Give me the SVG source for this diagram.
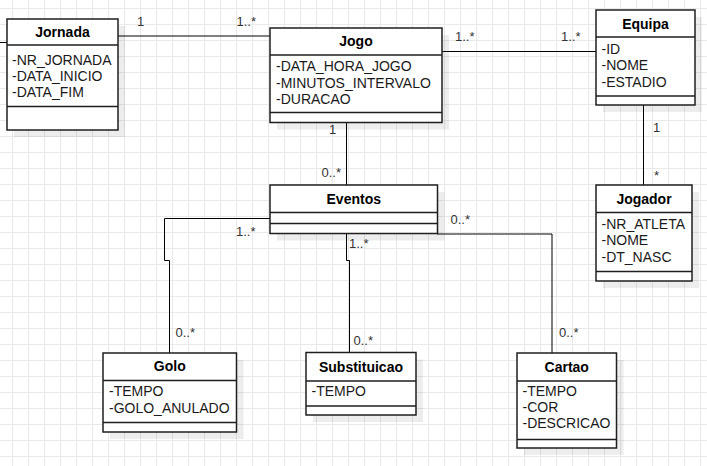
<svg xmlns="http://www.w3.org/2000/svg" width="707" height="466" viewBox="0 0 707 466">
<defs>
<pattern id="grid" width="16" height="16" patternUnits="userSpaceOnUse" x="12" y="8">
<path d="M0 0.5H16M0.5 0V16" fill="none" stroke="#e9e9e9" stroke-width="1"/>
</pattern>
<style>
.box{fill:#fff;stroke:#1f1f1f;stroke-width:1.5}
.sh{fill:#000;fill-opacity:0.07}
.sep{stroke:#1f1f1f;stroke-width:1.5;fill:none}
.t{font-family:"Liberation Sans",Arial,sans-serif;font-size:14px;font-weight:bold;text-anchor:middle;fill:#000}
.a{font-family:"Liberation Sans",Arial,sans-serif;font-size:14px;fill:#1a1a1a}
.l{font-family:"Liberation Sans",Arial,sans-serif;font-size:13px;fill:#333}
.c{fill:none;stroke:#000;stroke-width:1}
</style>
</defs>
<rect width="707" height="466" fill="#fff"/>
<rect width="707" height="466" fill="url(#grid)"/>

<g id="connectors">
<path class="c" d="M0 42.5H7"/>
<path class="c" d="M118 36H270"/>
<path class="c" d="M442 51.5H596"/>
<path class="c" d="M643.5 105V185"/>
<path class="c" d="M346.5 122.5V185"/>
<path class="c" d="M270 218.5H164.5V260.5H169.5V353"/>
<path class="c" d="M346.5 233.5V260.5H349.5V352.5"/>
<path class="c" d="M437 234H552V353"/>
<text class="l" x="137" y="25.5">1</text>
<text class="l" x="236.5" y="25.5">1..*</text>
<text class="l" x="455" y="41">1..*</text>
<text class="l" x="561" y="41">1..*</text>
<text class="l" x="653" y="132">1</text>
<text class="l" x="654" y="180">*</text>
<text class="l" x="329" y="134">1</text>
<text class="l" x="321.5" y="177">0..*</text>
<text class="l" x="236" y="236">1..*</text>
<text class="l" x="175.5" y="336.5">0..*</text>
<text class="l" x="349" y="247.5">1..*</text>
<text class="l" x="353.5" y="345">0..*</text>
<text class="l" x="450.5" y="224">0..*</text>
<text class="l" x="559" y="336.5">0..*</text>
</g>

<g id="jornada">
<rect class="sh" x="14" y="26" width="111" height="111"/>
<rect class="box" x="7" y="19" width="111" height="111"/>
<path class="sep" d="M7 45H118M7 106.5H118"/>
<text class="t" x="62.5" y="37">Jornada</text>
<text class="a" x="12" y="64.5">-NR_JORNADA</text>
<text class="a" x="12" y="80.8">-DATA_INICIO</text>
<text class="a" x="12" y="97">-DATA_FIM</text>
</g>

<g id="jogo">
<rect class="sh" x="277" y="35" width="172" height="94.5"/>
<rect class="box" x="270" y="28" width="172" height="94.5"/>
<path class="sep" d="M270 55H442M270 112.5H442"/>
<text class="t" x="356" y="46">Jogo</text>
<text class="a" x="276" y="71">-DATA_HORA_JOGO</text>
<text class="a" x="276" y="87.5">-MINUTOS_INTERVALO</text>
<text class="a" x="276" y="104">-DURACAO</text>
</g>

<g id="equipa">
<rect class="sh" x="603" y="17" width="99" height="95"/>
<rect class="box" x="596" y="10" width="99" height="95"/>
<path class="sep" d="M596 37H695M596 96H695"/>
<text class="t" x="645.5" y="28.5">Equipa</text>
<text class="a" x="601.5" y="53.5">-ID</text>
<text class="a" x="601.5" y="70">-NOME</text>
<text class="a" x="601.5" y="86.5">-ESTADIO</text>
</g>

<g id="jogador">
<rect class="sh" x="603" y="192" width="96" height="96"/>
<rect class="box" x="596" y="185" width="96" height="96"/>
<path class="sep" d="M596 212.5H692M596 271.5H692"/>
<text class="t" x="644" y="204">Jogador</text>
<text class="a" x="601.5" y="228.5">-NR_ATLETA</text>
<text class="a" x="601.5" y="245">-NOME</text>
<text class="a" x="601.5" y="261.5">-DT_NASC</text>
</g>

<g id="eventos">
<rect class="sh" x="277" y="192" width="167.5" height="48.5"/>
<rect class="box" x="270" y="185" width="167.5" height="48.5"/>
<path class="sep" d="M270 212.5H437.5M270 223.5H437.5"/>
<text class="t" x="353.75" y="204.3">Eventos</text>
</g>

<g id="golo">
<rect class="sh" x="110" y="360" width="133.5" height="79"/>
<rect class="box" x="103" y="353" width="133.5" height="79"/>
<path class="sep" d="M103 380.5H236.5M103 422.5H236.5"/>
<text class="t" x="169.75" y="371">Golo</text>
<text class="a" x="109" y="396">-TEMPO</text>
<text class="a" x="109" y="412.7">-GOLO_ANULADO</text>
</g>

<g id="substituicao">
<rect class="sh" x="313" y="359.5" width="110" height="62.5"/>
<rect class="box" x="306" y="352.5" width="110" height="62.5"/>
<path class="sep" d="M306 381H416M306 406H416"/>
<text class="t" x="361" y="371.5">Substituicao</text>
<text class="a" x="311.5" y="396">-TEMPO</text>
</g>

<g id="cartao">
<rect class="sh" x="524" y="360" width="99.5" height="95"/>
<rect class="box" x="517" y="353" width="99.5" height="95"/>
<path class="sep" d="M517 381H616.5M517 439.5H616.5"/>
<text class="t" x="566.75" y="371.5">Cartao</text>
<text class="a" x="522.5" y="396">-TEMPO</text>
<text class="a" x="522.5" y="411.7">-COR</text>
<text class="a" x="522.5" y="427.7">-DESCRICAO</text>
</g>
</svg>
